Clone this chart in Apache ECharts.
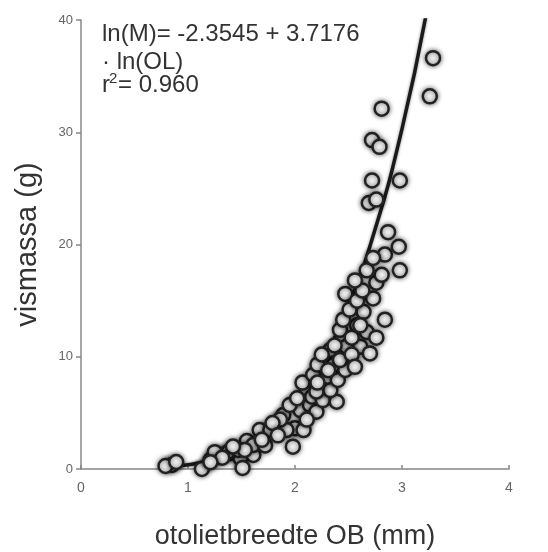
<!DOCTYPE html>
<html>
<head>
<meta charset="utf-8">
<script src="https://cdn.jsdelivr.net/npm/echarts@6/dist/echarts.min.js"></script>
<style>
html,body{margin:0;padding:0;background:#ffffff;}
#chart{width:548px;height:552px;}
</style>
</head>
<body>
<div id="chart"></div>
<script>
// Measured fish: otolith width OB (mm) and fish mass (g)
const obValues = [
  0.85, 0.79, 0.89, 1.13, 1.30, 1.39, 1.49, 1.61, 1.38, 1.47,
  1.55, 1.67, 1.77, 1.61, 1.89, 2.00, 1.92, 1.98, 2.11, 2.11,
  2.08, 1.21, 1.72, 1.25, 1.51, 2.05, 2.14, 2.20, 2.16, 2.26,
  2.39, 2.23, 2.33, 2.30, 2.40, 2.36, 2.47, 2.33, 2.48, 2.61,
  2.70, 2.42, 2.58, 2.67, 2.53, 2.76, 2.64, 2.84, 2.73, 2.47,
  2.76, 2.81, 2.98, 2.84, 2.97, 2.87, 2.69, 2.76, 2.72, 2.98,
  2.72, 2.79, 2.81, 3.26, 3.29, 1.95, 2.02, 2.07, 2.17, 2.21,
  2.25, 2.37, 2.45, 2.51, 2.58, 2.63, 2.67, 2.73, 1.86, 1.79,
  1.69, 1.84, 1.53, 1.42, 1.32, 1.21, 2.42, 2.53, 2.31, 2.20,
  2.11, 2.21, 2.56, 2.61, 2.56
];
const massValues = [
  0.36, 0.27, 0.62, 0.0, 1.25, 1.40, 0.95, 1.25, 1.54, 1.69,
  2.49, 3.47, 3.47, 2.14, 4.81, 3.62, 3.47, 1.99, 7.03, 4.96,
  3.47, 0.8, 2.1, 1.5, 0.1, 5.25, 5.70, 5.10, 6.44, 6.14,
  5.99, 7.33, 7.03, 8.22, 7.93, 9.26, 8.82, 10.6, 10.9, 10.9,
  10.3, 12.4, 12.8, 12.2, 11.7, 11.7, 14.0, 13.3, 15.2, 15.6,
  16.6, 17.3, 17.7, 19.1, 19.8, 21.1, 23.7, 24.0, 25.7, 25.7,
  29.3, 28.7, 32.1, 33.2, 36.6, 5.7, 6.3, 7.7, 8.4, 9.3,
  10.2, 11.0, 13.3, 14.2, 15.0, 15.9, 17.7, 18.8, 4.4, 4.1,
  2.6, 3.0, 1.7, 2.0, 1.0, 0.6, 9.7, 10.2, 8.8, 6.9,
  4.4, 7.7, 9.1, 12.8, 16.8
];
// Fitted curve
const curveOB   = [0.75, 1.0, 1.25, 1.5, 1.75, 2.0, 2.25, 2.5, 2.75, 3.0, 3.22];
const curveMass = [0.12, 0.37, 0.91, 1.89, 3.51, 5.98, 9.59, 14.6, 21.4, 30.3, 40.2];
// Tick labels
const xTicks = [0, 1, 2, 3, 4];
const yTicks = [0, 10, 20, 30, 40];
// Annotation text pieces
const annLine1 = 'ln(M)= -2.3545 + 3.7176';
const annLine2 = '\u00b7 ln(OL)';
const annR = 'r';
const annSup = '2';
const annR2 = '= 0.960';

const scatterData = obValues.map((x, i) => [x, massValues[i]]);
const curveData = curveOB.map((x, i) => [x, curveMass[i]]);

const FONT = '"Liberation Sans", Arial, Helvetica, sans-serif';
const txt = (t, left, top, size) => ({
  type: 'text', left: left, top: top, z: 10,
  style: {text: t, fontSize: size, fill: '#333', fontFamily: FONT}
});
const chart = echarts.init(document.getElementById('chart'), null, {renderer: 'canvas'});
chart.setOption({
  backgroundColor: '#ffffff',
  animation: false,
  grid: {left: 81, right: 39, top: 20, bottom: 83, containLabel: false, outerBoundsMode: 'none'},
  xAxis: {
    type: 'value', min: xTicks[0], max: xTicks[xTicks.length - 1], interval: 1,
    name: 'otolietbreedte OB (mm)', nameLocation: 'middle', nameGap: 54,
    nameTextStyle: {fontSize: 27, color: '#333', fontFamily: FONT},
    axisLine: {show: true, lineStyle: {color: '#888', width: 1.5}},
    axisTick: {show: true, inside: true, length: 4, lineStyle: {color: '#888', width: 1.5}},
    axisLabel: {fontSize: 14, color: '#666', fontFamily: FONT, margin: 12},
    splitLine: {show: false}
  },
  yAxis: {
    type: 'value', min: yTicks[0], max: yTicks[yTicks.length - 1], interval: 10,
    name: 'vismassa (g)', nameLocation: 'middle', nameGap: 39,
    nameTextStyle: {fontSize: 29, color: '#333', fontFamily: FONT},
    axisLine: {show: true, lineStyle: {color: '#888', width: 1.5}},
    axisTick: {show: true, inside: false, length: 5, lineStyle: {color: '#888', width: 1.5}},
    axisLabel: {fontSize: 13, color: '#666', fontFamily: FONT, margin: 8},
    splitLine: {show: false}
  },
  graphic: [
    txt(annLine1, 102, 22, 24),
    txt(annLine2, 102, 50, 24),
    txt(annR, 102, 73, 24),
    txt(annSup, 109, 71, 15),
    txt(annR2, 118, 73, 24)
  ],
  series: [
    {
      type: 'line', data: curveData, smooth: true, symbol: 'none', z: 1,
      lineStyle: {color: '#1a1a1a', width: 3.5, shadowBlur: 3, shadowColor: 'rgba(0,0,0,0.5)'}
    },
    {
      type: 'scatter', data: scatterData, symbol: 'circle', symbolSize: 14, z: 2,
      itemStyle: {color: '#f6f6f6', borderColor: '#222', borderWidth: 2.5,
        shadowBlur: 5, shadowColor: 'rgba(0,0,0,0.6)', opacity: 1}
    }
  ]
});
</script>
</body>
</html>
